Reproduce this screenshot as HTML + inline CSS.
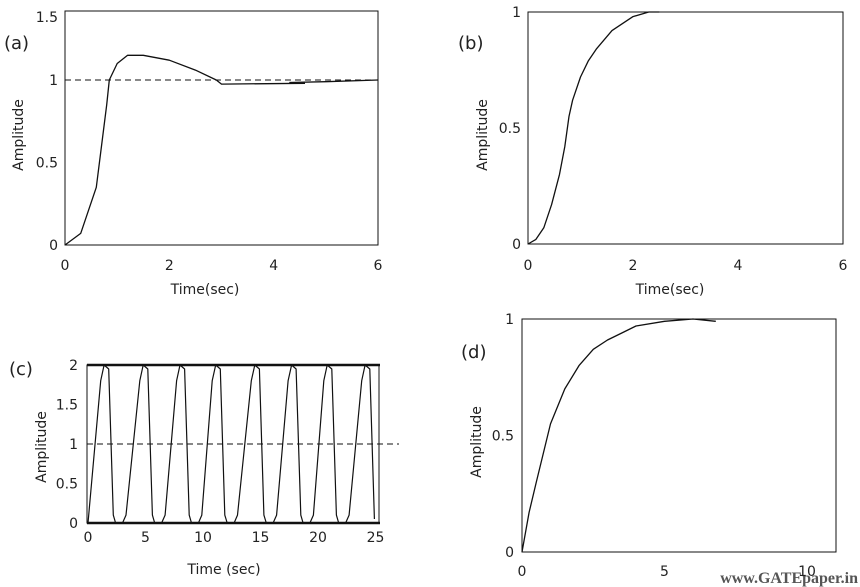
<!DOCTYPE html>
<html><head><meta charset="utf-8"><style>
body{margin:0;background:#fff;width:860px;height:587px;overflow:hidden}
svg{display:block}
text{font-family:"DejaVu Sans","Liberation Sans",sans-serif;font-size:14px;fill:#222}
</style></head><body>
<svg id="s" width="860" height="587">
<text x="4" y="49" style="font-size:18px">(a)</text>
<text x="458" y="49" style="font-size:18px">(b)</text>
<text x="9" y="375" style="font-size:18px">(c)</text>
<text x="461" y="358" style="font-size:18px">(d)</text>
<text x="205" y="294" text-anchor="middle">Time(sec)</text>
<text x="670" y="294" text-anchor="middle">Time(sec)</text>
<text x="224" y="574" text-anchor="middle">Time (sec)</text>
<text transform="translate(23,135) rotate(-90)" text-anchor="middle">Amplitude</text>
<text transform="translate(487,135) rotate(-90)" text-anchor="middle">Amplitude</text>
<text transform="translate(46,447) rotate(-90)" text-anchor="middle">Amplitude</text>
<text transform="translate(481,442) rotate(-90)" text-anchor="middle">Amplitude</text>
<text x="858" y="583" text-anchor="end" style="font-family:'Liberation Serif',serif;font-weight:bold;font-size:16px;fill:#555">www.GATEpaper.in</text>
</svg>
<script>
const aTime=[0,0.3,0.6,0.8,0.85,1.0,1.2,1.5,2.0,2.5,2.9,3.0,4.6];
const aAmp=[0,0.07,0.35,0.85,1.0,1.1,1.15,1.15,1.12,1.06,1.0,0.975,0.98];
const aTime2=[4.3,5.0,6.0];
const aAmp2=[0.985,0.99,1.0];
const aXTicks=[0,2,4,6];
const aYTicks=[0,0.5,1];
const bTime=[0,0.15,0.3,0.45,0.6,0.7,0.78,0.85,1.0,1.15,1.3,1.6,2.0,2.3,2.5];
const bAmp=[0,0.02,0.07,0.17,0.3,0.42,0.55,0.62,0.72,0.79,0.84,0.92,0.98,1.0,1.0];
const bXTicks=[0,2,4,6];
const bYTicks=[0,0.5,1];
const cTime=[0,1.1,1.4,1.8,2.2,2.4,3.0,3.3,4.5,4.8,5.2,5.6,5.8,6.4,6.7,7.7,8.0,8.4,8.8,9.0,9.6,9.9,10.8,11.1,11.5,11.9,12.1,12.7,13.0,14.2,14.5,14.9,15.3,15.5,16.1,16.4,17.4,17.7,18.1,18.5,18.7,19.3,19.6,20.5,20.8,21.2,21.6,21.8,22.4,22.7,23.8,24.1,24.5,24.9];
const cAmp=[0,1.8,2,1.95,0.1,0,0,0.1,1.8,2,1.95,0.1,0,0,0.1,1.8,2,1.95,0.1,0,0,0.1,1.8,2,1.95,0.1,0,0,0.1,1.8,2,1.95,0.1,0,0,0.1,1.8,2,1.95,0.1,0,0,0.1,1.8,2,1.95,0.1,0,0,0.1,1.8,2,1.95,0.05];
const cXTicks=[0,5,10,15,20,25];
const cYTicks=[0,0.5,1,1.5,2];
const dTime=[0,0.25,0.5,1,1.5,2,2.5,3,3.5,4,5,6,6.8];
const dAmp=[0,0.17,0.3,0.55,0.7,0.8,0.87,0.91,0.94,0.97,0.99,1.0,0.99];
const dXTicks=[0,5,10];
const dYTicks=[0,0.5,1];

const S=document.getElementById('s');
const NS='http://www.w3.org/2000/svg';
function mk(tag,attrs){const e=document.createElementNS(NS,tag);for(const k in attrs)e.setAttribute(k,attrs[k]);S.appendChild(e);return e;}
function axisFns(x0,x1,t0,t1,y0,y1,v0,v1){
  return {x:t=>x0+(t-t0)*(x1-x0)/(t1-t0),y:v=>y0+(v-v0)*(y1-y0)/(v1-v0)};
}
function line(ax,ts,vs,name,w){
  const d=ts.map((t,i)=>(i?'L':'M')+ax.x(t).toFixed(1)+','+ax.y(vs[i]).toFixed(1)).join('');
  const p=mk('path',{d:d,fill:'none',stroke:'#111','stroke-width':w||1.3,'stroke-linejoin':'round'});
  
  
}
function frame(x,y,w,h,name){
  const r=mk('rect',{x:x,y:y,width:w,height:h,fill:'none',stroke:'#111','stroke-width':1});
  
  
}
function ticks(ax,xt,yt,yx,xy,pre,xfmt){
  xt.forEach(t=>{const e=mk('text',{x:ax.x(t),y:xy,'text-anchor':'middle'});e.textContent=t;
    
    });
  yt.forEach(v=>{const e=mk('text',{x:yx,y:ax.y(v)+5,'text-anchor':'end'});e.textContent=v;
    
    });
}
// (a)
const A=axisFns(65,378,0,6,245,80,0,1);
frame(65,11,313,234,'a-plot-frame');
let e=mk('line',{x1:65,x2:378,y1:A.y(1),y2:A.y(1),stroke:'#111','stroke-dasharray':'6,4'});


line(A,aTime,aAmp,'a-response-line');
line(A,aTime2,aAmp2,'a-response-tail');
ticks(A,aXTicks,aYTicks,58,270,'a');
e=mk('text',{x:58,y:22,'text-anchor':'end'});e.textContent='1.5';


// (b)
const B=axisFns(528,843,0,6,244,12,0,1);
frame(528,12,315,232,'b-plot-frame');
line(B,bTime,bAmp,'b-response-line');
ticks(B,bXTicks,bYTicks,521,270,'b');
// (c)
const C=axisFns(88,375.5,0,25,523,365,0,2);
frame(87,365,292,158,'c-plot-frame');
mk('line',{x1:87,x2:380,y1:365,y2:365,stroke:'#111','stroke-width':2.5});
mk('line',{x1:87,x2:380,y1:523,y2:523,stroke:'#111','stroke-width':2.5});
e=mk('line',{x1:87,x2:399,y1:C.y(1),y2:C.y(1),stroke:'#111','stroke-dasharray':'6,4'});


line(C,cTime,cAmp,'c-response-line',1.2);
ticks(C,cXTicks,cYTicks,78,542,'c');
// (d)
const D=axisFns(522,807,0,10,552,319,0,1);
frame(522,319,314,233,'d-plot-frame');
line(D,dTime,dAmp,'d-response-line');
ticks(D,dXTicks,dYTicks,514,576,'d');
</script>
</body></html>
